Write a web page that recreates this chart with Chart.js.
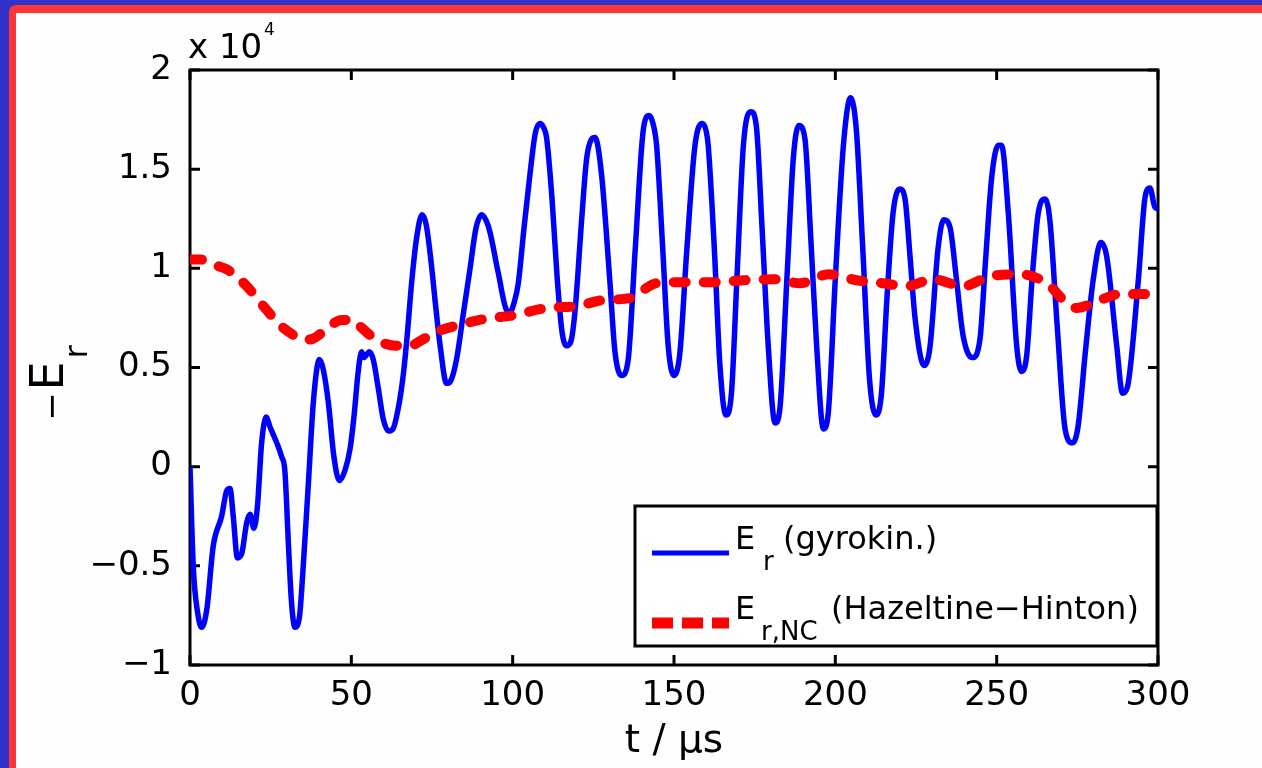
<!DOCTYPE html>
<html>
<head>
<meta charset="utf-8">
<script src="https://cdn.jsdelivr.net/npm/chart.js@4.4.1/dist/chart.umd.min.js"></script>
<style>
  html, body { margin: 0; padding: 0; }
  body { width: 1262px; height: 768px; overflow: hidden; position: relative; background: #3232c8; }
  #frame { position: absolute; left: 9px; top: 5px; width: 1300px; height: 800px; background: #ff3535; border-radius: 7px; }
  #paper { position: absolute; left: 16px; top: 13px; width: 1300px; height: 800px; background: #fdfefd; }
  #chart { position: absolute; left: 0; top: 0; }
</style>
</head>
<body>
<div id="frame"></div>
<div id="paper"></div>
<canvas id="chart" width="1262" height="768"></canvas>
<script>
// -E_r in units of 1e4, gyrokinetic run
const tGyro = [
  0, 1.0, 2.4, 3.6, 5.2, 7.2, 9.8, 11.4, 12.4, 13.4, 14.7, 16.0, 17.6, 18.6, 19.8, 20.9,
  22.2, 23.6, 24.8, 26.9, 28.4, 29.4, 30.5, 31.4, 32.5, 33.9, 35.1, 36.7, 38.3, 40.1, 41.3,
  42.9, 44.6, 46.3, 48.0, 49.6, 50.8, 52.2, 53.2, 53.9, 55.6, 56.8, 58.4, 59.9, 61.5, 62.9,
  64.6, 66.0, 67.2, 68.7, 70.2, 71.9, 73.2, 74.6, 76.2, 77.6, 79.5, 80.7, 82.6, 84.7, 86.8,
  88.6, 90.4, 91.8, 93.0, 95.5, 98.1, 99.2, 100.5, 101.7, 103.5, 105.4, 107.0, 108.5, 109.6,
  110.5, 112.2, 113.8, 115.3, 116.7, 118.0, 119.3, 121.4, 122.9, 124.4, 125.5, 127.5,
  130.1, 131.7, 133.8, 135.8, 138.0, 140.5, 142.3, 143.5, 144.6, 146.5, 148.2, 150.0, 151.8,
  154.0, 156.5, 158.8, 160.0, 160.6, 162.5, 164.2, 166.1, 167.8, 169.5, 171.5, 173.8, 175.5,
  177.3, 179.2, 181.3, 182.8, 185.0, 187.0, 188.7, 190.6, 192.4, 194.2, 196.3, 197.8, 200.0,
  202.5, 204.7, 206.5, 208.5, 210.6, 212.6, 214.3, 216.0, 217.9, 220.0, 221.6, 223.2, 224.7,
  227.5, 229.3, 231.9, 233.6, 235.5, 237.5, 239.6, 242.5, 244.8, 246.6, 248.4, 250.5, 251.5,
  253.6, 256.2, 257.7, 259.3, 261.0, 262.9, 265.0, 266.5, 268.8, 271.2, 273.5, 275.2, 277.5,
  279.9, 282.3, 284.1, 287.2, 289.0, 290.5, 293.9, 296.0, 297.5, 299.0, 300
];
const erGyro = [
  0.00, -0.50, -0.74, -0.81, -0.72, -0.40, -0.25, -0.12, -0.11, -0.25, -0.46, -0.44, -0.28, -0.24, -0.31, -0.20,
  0.12, 0.25, 0.20, 0.12, 0.05, -0.02, -0.39, -0.67, -0.81, -0.76, -0.50, -0.08, 0.34, 0.54, 0.49,
  0.32, 0.05, -0.07, -0.02, 0.09, 0.25, 0.49, 0.58, 0.55, 0.58, 0.54, 0.39, 0.24, 0.18, 0.19,
  0.30, 0.45, 0.64, 0.93, 1.15, 1.27, 1.22, 1.05, 0.80, 0.60, 0.42, 0.43, 0.54, 0.77, 1.00,
  1.20, 1.27, 1.24, 1.18, 0.98, 0.79, 0.78, 0.83, 0.92, 1.20, 1.48, 1.68, 1.73, 1.71,
  1.66, 1.35, 0.95, 0.68, 0.61, 0.63, 0.78, 1.25, 1.55, 1.65, 1.66, 1.48,
  0.94, 0.58, 0.46, 0.54, 1.10, 1.70, 1.77, 1.73, 1.62, 1.10, 0.61, 0.46, 0.57,
  1.10, 1.62, 1.73, 1.69, 1.62, 1.10, 0.52, 0.26, 0.37, 0.95, 1.62, 1.79, 1.72,
  1.20, 0.61, 0.22, 0.29, 0.95, 1.56, 1.72, 1.65, 1.15, 0.61, 0.19, 0.27, 0.95,
  1.62, 1.86, 1.70, 1.10, 0.44, 0.26, 0.37, 0.85, 1.28, 1.40, 1.35, 1.05, 0.75,
  0.51, 0.60, 1.11, 1.245, 1.21, 0.95, 0.66, 0.55, 0.64, 1.05, 1.45, 1.62, 1.62,
  1.28, 0.61, 0.48, 0.56, 0.95, 1.28, 1.35, 1.24, 0.70, 0.19, 0.12, 0.20, 0.58,
  0.94, 1.13, 1.06, 0.61, 0.37, 0.40, 0.94, 1.36, 1.405, 1.31, 1.30
];

// neoclassical estimate (Hazeltine-Hinton)
const tNC = [
  0, 3, 7, 11.9, 17.6, 22.7, 28.9, 33, 35.6, 38.1, 43.4, 47, 50.6, 53.2, 57.8, 64.0, 68.1,
  72, 76.4, 84.7, 93.0, 99.2, 110.5, 119.9, 128.1, 136.3, 144.6, 152.9, 162.2, 171.5, 180.8,
  189.0, 198, 206.6, 214.8, 222.1, 230.3, 239.6, 247.9, 257.2, 265.5, 271.7, 274.8, 282,
  288.2, 297.5, 300
];
const erNC = [
  1.045, 1.045, 1.02, 0.99, 0.91, 0.81, 0.70, 0.655, 0.64, 0.645, 0.71, 0.74, 0.74, 0.70, 0.64, 0.61, 0.61,
  0.64, 0.68, 0.72, 0.75, 0.76, 0.80, 0.81, 0.84, 0.85, 0.925, 0.93, 0.93, 0.94, 0.945,
  0.925, 0.97, 0.94, 0.925, 0.91, 0.945, 0.91, 0.96, 0.97, 0.925, 0.825, 0.80, 0.84,
  0.87, 0.87, 0.87
];

const xTicks = [0, 50, 100, 150, 200, 250, 300];
const yTicks = [-1, -0.5, 0, 0.5, 1, 1.5, 2];

const FONT = "'DejaVu Sans', sans-serif";
const BLUE = '#0000ff';
const RED = '#ff0000';
const TICK = 10;

const minus = (v) => String(v).replace('-', '\u2212');

// box, inward ticks, legend and the hand-set labels
const axesDecor = {
  id: 'axesDecor',
  beforeDatasetsDraw(chart) {
    const { ctx, chartArea: a, scales: { x, y } } = chart;
    ctx.save();
    ctx.strokeStyle = '#000';
    ctx.lineWidth = 3;
    ctx.strokeRect(a.left, a.top, a.right - a.left, a.bottom - a.top);
    ctx.beginPath();
    xTicks.forEach((t) => {
      const px = x.getPixelForValue(t);
      ctx.moveTo(px, a.bottom); ctx.lineTo(px, a.bottom - TICK);
      ctx.moveTo(px, a.top); ctx.lineTo(px, a.top + TICK);
    });
    yTicks.forEach((v) => {
      const py = y.getPixelForValue(v);
      ctx.moveTo(a.left, py); ctx.lineTo(a.left + TICK, py);
      ctx.moveTo(a.right, py); ctx.lineTo(a.right - TICK, py);
    });
    ctx.stroke();
    ctx.restore();
  },
  afterDraw(chart) {
    const { ctx, chartArea: a } = chart;
    ctx.save();
    ctx.fillStyle = '#000';
    ctx.textBaseline = 'alphabetic';

    // exponent above the y axis
    ctx.textAlign = 'left';
    ctx.font = '34px ' + FONT;
    ctx.fillText('x 10', a.left - 2, a.top - 12);
    ctx.font = '17px ' + FONT;
    ctx.fillText('4', a.left + 74, a.top - 35);

    // y title, rotated
    ctx.save();
    ctx.translate(63, 382);
    ctx.rotate(-Math.PI / 2);
    ctx.textAlign = 'center';
    ctx.font = '34px ' + FONT;
    ctx.fillText('\u2212', -24.5, 0);
    ctx.font = '46px ' + FONT;
    ctx.fillText('E', 6, 0);
    ctx.font = '32px ' + FONT;
    ctx.fillText('r', 30, 24);
    ctx.restore();

    // legend
    const lg = { left: 635, top: 506, right: a.right - 1, bottom: a.bottom - 19 };
    ctx.fillStyle = '#fff';
    ctx.fillRect(lg.left, lg.top, lg.right - lg.left, lg.bottom - lg.top);
    ctx.strokeStyle = '#000';
    ctx.lineWidth = 3;
    ctx.strokeRect(lg.left, lg.top, lg.right - lg.left, lg.bottom - lg.top);

    const rows = [
      { y: lg.top + 43, color: BLUE, width: 5, dash: [], sub: 'r', text: '(gyrokin.)', subX: 763, textX: 783 },
      { y: lg.top + 113, color: RED, width: 11, dash: [21, 9], sub: 'r,NC', text: '(Hazeltine\u2212Hinton)', subX: 761, textX: 831 }
    ];
    rows.forEach((r) => {
      ctx.beginPath();
      ctx.setLineDash(r.dash);
      ctx.lineCap = 'butt';
      ctx.strokeStyle = r.color;
      ctx.lineWidth = r.width;
      ctx.moveTo(lg.left + 17, r.y + 4);
      ctx.lineTo(lg.left + 94, r.y + 4);
      ctx.stroke();
      ctx.setLineDash([]);

      ctx.fillStyle = '#000';
      ctx.textAlign = 'left';
      ctx.font = '32px ' + FONT;
      ctx.fillText('E', 735, r.y);
      ctx.fillText(r.text, r.textX, r.y);
      ctx.font = '26px ' + FONT;
      ctx.fillText(r.sub, r.subX, r.y + 21);
    });
    ctx.restore();
  }
};

new Chart(document.getElementById('chart'), {
  type: 'line',
  data: {
    datasets: [
      {
        label: 'E_r (gyrokin.)',
        data: tGyro.map((t, i) => ({ x: t, y: erGyro[i] })),
        borderColor: BLUE,
        borderWidth: 5.5,
        borderJoinStyle: 'round',
        pointRadius: 0,
        cubicInterpolationMode: 'monotone',
        order: 1
      },
      {
        label: 'E_r,NC (Hazeltine-Hinton)',
        data: tNC.map((t, i) => ({ x: t, y: erNC[i] })),
        borderColor: RED,
        borderWidth: 10,
        borderDash: [12, 18],
        borderCapStyle: 'round',
        pointRadius: 0,
        cubicInterpolationMode: 'monotone',
        order: 0
      }
    ]
  },
  options: {
    responsive: false,
    animation: false,
    layout: { padding: { left: 0, top: 70, right: 104, bottom: 0 } },
    plugins: { legend: { display: false }, tooltip: { enabled: false } },
    scales: {
      x: {
        type: 'linear',
        min: 0,
        max: 300,
        afterBuildTicks: (s) => { s.ticks = xTicks.map((v) => ({ value: v })); },
        afterFit: (s) => { s.height = 103; },
        grid: { display: false, drawTicks: false },
        border: { display: false },
        ticks: { color: '#000', padding: 11, maxRotation: 0, font: { family: FONT, size: 34 } },
        title: {
          display: true,
          text: 't / \u03bcs',
          color: '#000',
          font: { family: FONT, size: 39, lineHeight: 1 },
          padding: { top: 0, bottom: 7 }
        }
      },
      y: {
        type: 'linear',
        min: -1,
        max: 2,
        afterBuildTicks: (s) => { s.ticks = yTicks.map((v) => ({ value: v })); },
        afterFit: (s) => { s.width = 190; },
        grid: { display: false, drawTicks: false },
        border: { display: false },
        ticks: { color: '#000', padding: 18, callback: (v) => minus(v), font: { family: FONT, size: 34 } }
      }
    }
  },
  plugins: [axesDecor]
});
</script>
</body>
</html>
